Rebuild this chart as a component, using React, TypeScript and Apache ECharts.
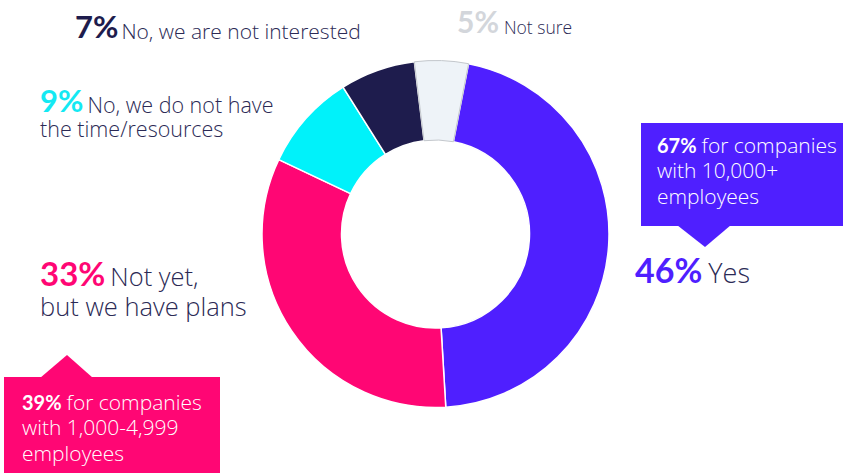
import React, { useEffect, useRef } from "react";
import * as echarts from "echarts";

const categories = [
  "Yes",
  "Not yet, but we have plans",
  "No, we do not have the time/resources",
  "No, we are not interested",
  "Not sure",
];
const values = [46, 33, 9, 7, 5];
const sliceColors = ["#4f1fff", "#ff0674", "#00f2fa", "#1e1c4d", "#eef3f8"];
const percentColors = ["#4f1fff", "#ff0674", "#14e9f3", "#1e1c4d", "#d3d6db"];
const labelLines = [
  ["Yes"],
  ["Not yet,", "but we have plans"],
  ["No, we do not have", "the time/resources"],
  ["No, we are not interested"],
  ["Not sure"],
];
const calloutValues = [67, 39];
const calloutLines = [
  ["for companies", "with 10,000+", "employees"],
  ["for companies", "with 1,000-4,999", "employees"],
];

const PCT_FONT = "Lato, 'Noto Sans', sans-serif";
const LBL_FONT = "'Open Sans', Lato, sans-serif";
const TEXT_DARK = "#2b2a55";
const K = 0.3;

type Part = { text: string; size: number; weight: any; color: string; font: string; gap?: number };

function textLine(x: number, baseline: number, parts: Part[]) {
  const rich: any = {};
  let text = "";
  parts.forEach((p, i) => {
    rich["t" + i] = {
      fontSize: p.size,
      fontWeight: p.weight,
      fontFamily: p.font,
      fill: p.color,
      lineHeight: Math.round(2 * K * p.size),
      verticalAlign: "bottom",
      padding: [0, p.gap || 0, 0, 0],
    };
    text += `{t${i}|${p.text}}`;
  });
  return {
    type: "text",
    x,
    y: baseline,
    silent: true,
    z: 10,
    style: { text, rich, align: "left", verticalAlign: "bottom" },
  };
}

// label layout per slice: [x, first baseline, line spacing, pct size, label size, gap]
const labelLayout: number[][] = [
  [635, 286, 30, 34, 27, 6],
  [40, 289, 30, 33, 25.5, 5],
  [40, 115, 24, 31, 21.5, 4],
  [75, 41, 24, 31, 21, 3],
  [457, 36, 24, 30, 17.5, 5],
];

function sliceLabels() {
  const out: any[] = [];
  values.forEach((v, i) => {
    const [x, b, sp, ps, ls, gap] = labelLayout[i];
    const lines = labelLines[i];
    out.push(
      textLine(x, b, [
        { text: `${v}%`, size: ps, weight: "bold", color: percentColors[i], font: PCT_FONT, gap },
        { text: lines[0], size: ls, weight: 300, color: TEXT_DARK, font: LBL_FONT },
      ])
    );
    for (let j = 1; j < lines.length; j++) {
      out.push(
        textLine(x, b + sp * j, [
          { text: lines[j], size: ls, weight: 300, color: TEXT_DARK, font: LBL_FONT },
        ])
      );
    }
  });
  return out;
}

function callout(
  idx: number,
  color: string,
  rect: number[],
  tri: number[][],
  tx: number,
  tb: number
) {
  const els: any[] = [
    { type: "rect", shape: { x: rect[0], y: rect[1], width: rect[2], height: rect[3] }, style: { fill: color }, silent: true, z: 5 },
    { type: "polygon", shape: { points: tri }, style: { fill: color }, silent: true, z: 5 },
  ];
  const lines = calloutLines[idx];
  els.push(
    textLine(tx, tb, [
      { text: `${calloutValues[idx]}%`, size: 20, weight: "bold", color: "#ffffff", font: PCT_FONT, gap: 5 },
      { text: lines[0], size: 21, weight: 300, color: "#ffffff", font: LBL_FONT },
    ])
  );
  for (let j = 1; j < lines.length; j++) {
    els.push(
      textLine(tx, tb + 25.5 * j, [
        { text: lines[j], size: 21, weight: 300, color: "#ffffff", font: LBL_FONT },
      ])
    );
  }
  return els;
}

export default function App() {
  const ref = useRef<HTMLDivElement>(null);
  useEffect(() => {
    if (!ref.current) return;
    const chart = echarts.init(ref.current, null, { renderer: "svg" });
    chart.setOption({
      animation: false,
      backgroundColor: "#ffffff",
      series: [
        {
          type: "pie",
          center: [435.5, 234],
          radius: [94, 173.5],
          startAngle: 79,
          clockwise: true,
          silent: true,
          label: { show: false },
          labelLine: { show: false },
          itemStyle: { borderColor: "#ffffff", borderWidth: 1.5 },
          data: values.map((v, i) => ({
            value: v,
            name: categories[i],
            itemStyle:
              i === 4
                ? { color: sliceColors[i], borderColor: "#c3c7cc", borderWidth: 1 }
                : { color: sliceColors[i] },
          })),
        },
      ],
      graphic: [
        ...sliceLabels(),
        ...callout(0, "#4f1fff", [641, 123, 210, 103], [[677, 225], [731, 225], [705, 247]], 657, 155),
        ...callout(1, "#ff0674", [4, 377, 216, 100], [[40, 378], [93, 378], [67, 355]], 22, 412),
      ],
    });
    return () => chart.dispose();
  }, []);
  return (
    <div
      ref={ref}
      style={{ position: "fixed", left: 0, top: 0, width: 843, height: 473 }}
    />
  );
}
